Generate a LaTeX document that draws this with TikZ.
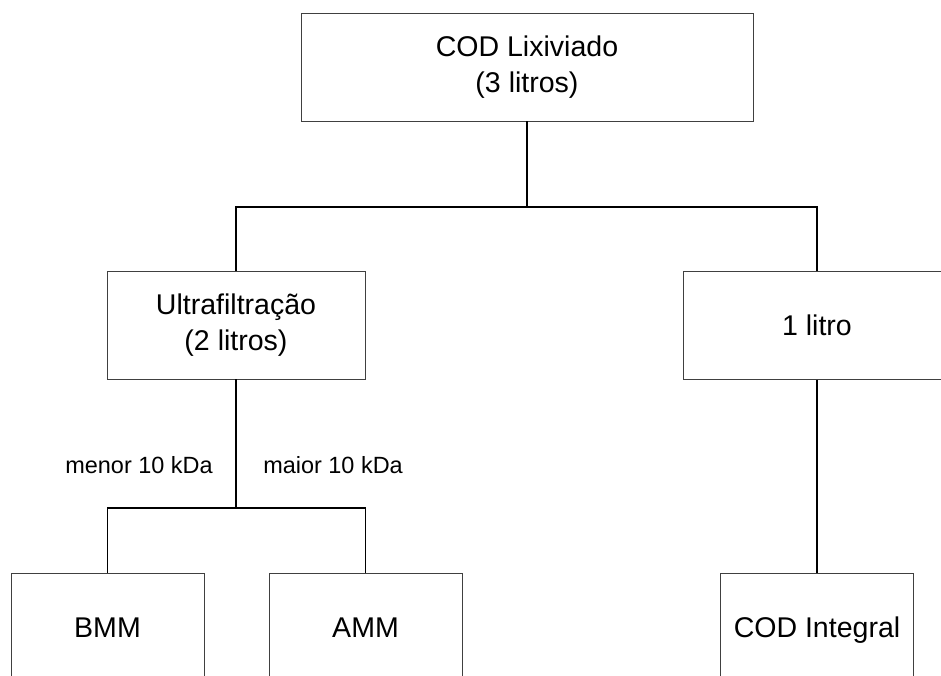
\documentclass[tikz,border=0pt]{standalone}
\usepackage{fontspec}
\setmainfont{Liberation Sans}
\begin{document}
\begin{tikzpicture}[x=0.75pt,y=-0.75pt,
  box/.style={draw=black!75,line width=0.7pt,rectangle,inner sep=0pt,
    align=center,font=\fontsize{21.4}{27}\selectfont,minimum height=81pt},
  oneline/.style={text height=15.3pt,text depth=0pt},
  link/.style={draw=black,line width=1.1pt},
  tag/.style={inner sep=0pt,font=\fontsize{17.6}{21}\selectfont}]
\useasboundingbox (0,0) rectangle (941,675);

% boxes
\node[box,minimum width=339pt] (top) at (527,67) {COD Lixiviado\\(3 litros)};
\node[box,minimum width=193.5pt] (ultra) at (236,325) {Ultrafiltração\\(2 litros)};
\node[box,oneline,minimum width=201pt] (litro) at (817,325.5) {1 litro};
\node[box,oneline,minimum width=144.75pt] (bmm) at (107.5,627) {BMM};
\node[box,oneline,minimum width=144.75pt] (amm) at (365.5,627) {AMM};
\node[box,oneline,minimum width=144.75pt] (integral) at (817,627) {COD Integral};

% junction points
\coordinate (j1) at (527,207);
\coordinate (j2) at (236,508);

% connectors
\draw[link] (top.south) -- (j1);
\draw[link] (ultra.north) |- (j1) -| (litro.north);
\draw[link] (ultra.south) -- (j2);
\draw[link] (bmm.north) |- (j2) -| (amm.north);
\draw[link] (litro.south) -- (integral.north);

% branch labels
\node[tag,anchor=east] (menor) at (213,465) {menor 10 kDa};
\node[tag,anchor=west] (maior) at (263,465) {maior 10 kDa};
\end{tikzpicture}
\end{document}
